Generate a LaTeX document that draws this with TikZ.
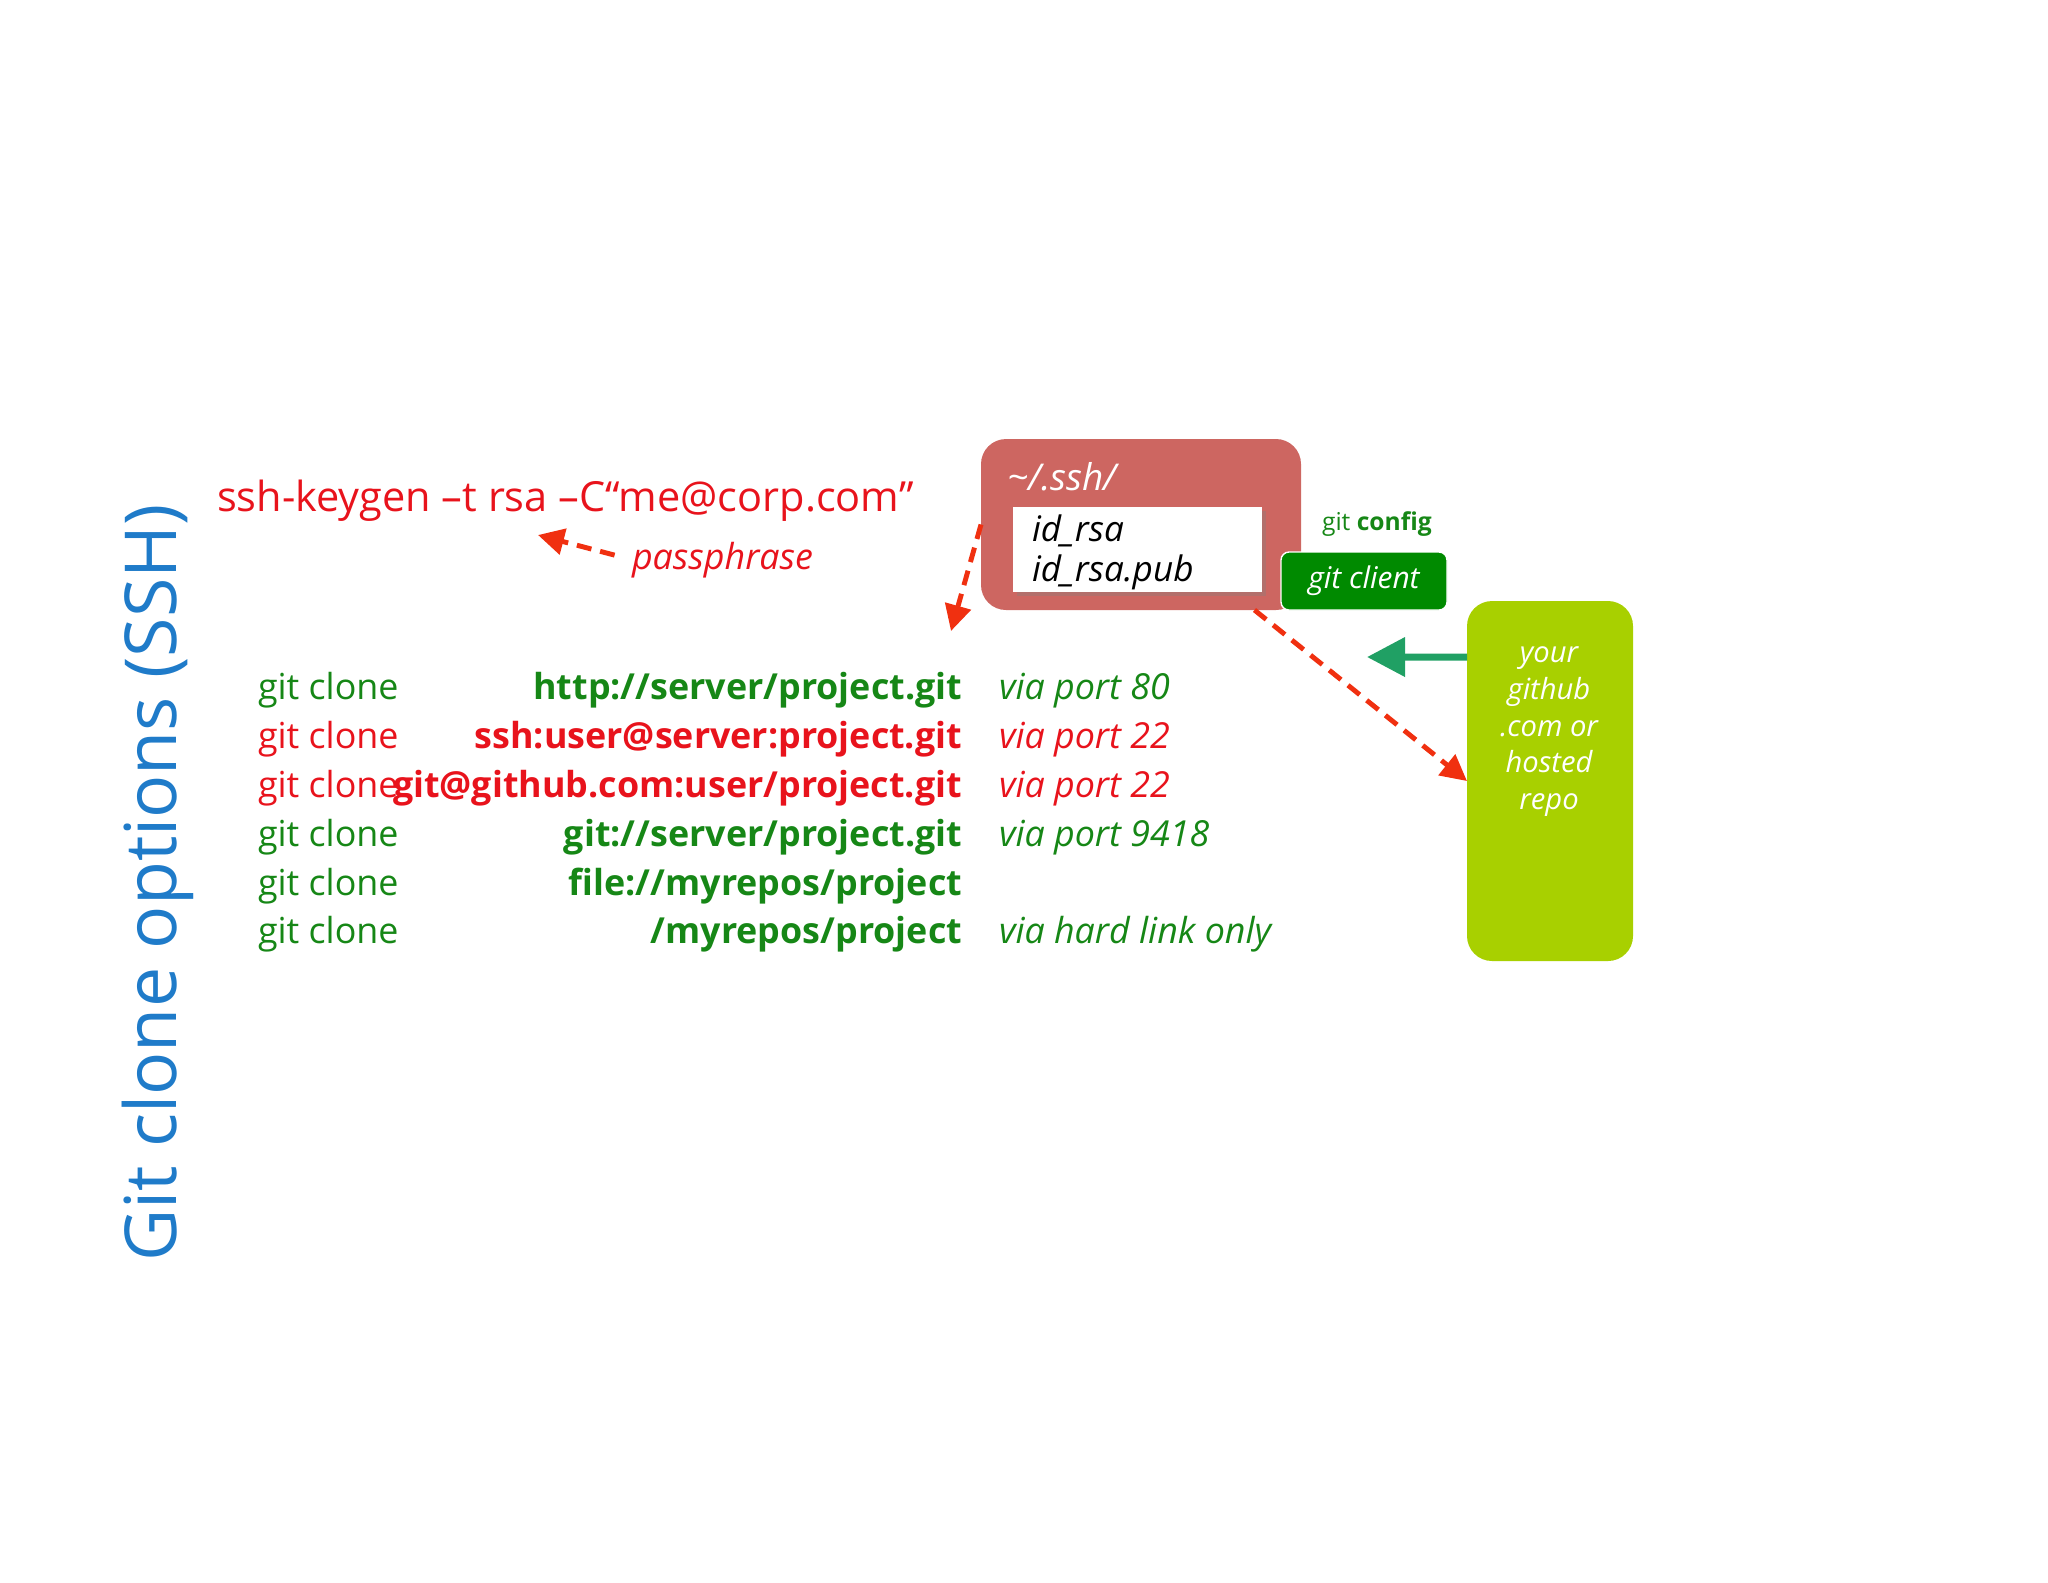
\documentclass[tikz,border=0pt]{standalone}
\usepackage{fontspec}
\setmainfont{Open Sans}
\usetikzlibrary{arrows.meta,shadows}
\definecolor{titleblue}{RGB}{31,123,201}
\definecolor{txtred}{RGB}{232,19,28}
\definecolor{txtgreen}{RGB}{22,135,22}
\definecolor{boxred}{RGB}{205,102,97}
\definecolor{clientgreen}{RGB}{0,138,0}
\definecolor{repolime}{RGB}{168,208,0}
\definecolor{pullgreen}{RGB}{32,160,100}
\definecolor{arrowred}{RGB}{240,48,16}
\begin{document}
\begin{tikzpicture}[x=0.1mm,y=-0.1mm,
  every node/.style={inner sep=0pt,outer sep=0pt},
  rowtext/.style={font=\fontsize{10.2}{12}\selectfont},
  urltext/.style={font=\fontsize{10.2}{12}\selectfont\bfseries,anchor=base east},
  viatext/.style={font=\fontsize{10.2}{12}\selectfont\itshape,anchor=base west},
  dasharrow/.style={draw=arrowred,line width=1.4pt,dash pattern=on 1.5mm off 0.9mm,
    -{Triangle[length=2.6mm,width=2.6mm]}}]
\useasboundingbox (0,0) rectangle (2048,1582);
\node[rotate=90,text=titleblue,font=\fontsize{20.4}{24}\selectfont] (title) at (158,883) {Git clone options (SSH)};
\node[anchor=base west,text=txtred,font=\fontsize{11.8}{14}\selectfont] (keygen) at (217,511) {ssh-keygen –t rsa –C“me@corp.com”};
\node[anchor=base west,text=txtred,font=\fontsize{10.2}{12}\selectfont\itshape] (pass) at (632,569) {passphrase};
\coordinate (keyhint) at (538,535);
\draw[dasharrow,shorten <=1.8mm] (pass.west) -- (keyhint);
% ssh folder
\node[fill=boxred,rounded corners=2.5mm,minimum width=32mm,minimum height=17.1mm] (sshdir) at (1141,524.5) {};
\node[anchor=base west,text=white,font=\fontsize{10.5}{12}\selectfont\itshape] (sshname) at (1007,490) {\textasciitilde/.ssh/};
\node[fill=white,minimum width=24.9mm,minimum height=8.5mm,drop shadow={opacity=0.35,shadow xshift=0.4mm,shadow yshift=-0.4mm}] (keys) at (1137.5,549.5) {};
\node[anchor=base west,font=\fontsize{10}{12}\selectfont\itshape] (idrsa) at (1032,541) {id\_rsa};
\node[anchor=base west,font=\fontsize{10}{12}\selectfont\itshape] (idpub) at (1032,581) {id\_rsa.pub};
\node[anchor=base west,text=txtgreen,font=\fontsize{7}{8}\selectfont] (config) at (1322,530) {git \textbf{config}};
\node[fill=clientgreen,draw=white,line width=0.4pt,rounded corners=0.8mm,minimum width=16.6mm,minimum height=5.8mm,
  text=white,font=\fontsize{8.5}{10}\selectfont\itshape] (client) at (1364,581) {git client};
% hosted repo
\node[fill=repolime,rounded corners=2.5mm,minimum width=16.6mm,minimum height=36mm] (repo) at (1550,781) {};
\node[anchor=north,align=center,text=white,font=\fontsize{8.3}{10.4}\selectfont\itshape] (repotext) at (1549,647)
  {your\\github\\.com or\\hosted\\repo};
\coordinate (sshhint) at (951,631);
\coordinate (pullend) at (1367,657);
\draw[dasharrow] (sshdir.west) -- (sshhint);
\draw[dasharrow] (sshdir.-37) -- (repo.west);
\draw[pullgreen,line width=2pt,-{Triangle[length=3.8mm,width=3.8mm]}] ([yshift=-5.6mm]repo.north west) -- (pullend);
% clone rows
\node[rowtext,anchor=base west,text=txtgreen] (g1) at (258,699) {git clone};
\node[urltext,text=txtgreen] (u1) at (962,699) {http://server/project.git};
\node[viatext,text=txtgreen] (v1) at (999,699) {via port 80};
\node[rowtext,anchor=base west,text=txtred] (g2) at (258,748) {git clone};
\node[urltext,text=txtred] (u2) at (962,748) {ssh:user@server:project.git};
\node[viatext,text=txtred] (v2) at (999,748) {via port 22};
\node[rowtext,anchor=base west,text=txtred] (g3) at (258,797) {git clone};
\node[urltext,text=txtred] (u3) at (962,797) {git@github.com:user/project.git};
\node[viatext,text=txtred] (v3) at (999,797) {via port 22};
\node[rowtext,anchor=base west,text=txtgreen] (g4) at (258,846) {git clone};
\node[urltext,text=txtgreen] (u4) at (962,846) {git://server/project.git};
\node[viatext,text=txtgreen] (v4) at (999,846) {via port 9418};
\node[rowtext,anchor=base west,text=txtgreen] (g5) at (258,895) {git clone};
\node[urltext,text=txtgreen] (u5) at (962,895) {file://myrepos/project};
\node[rowtext,anchor=base west,text=txtgreen] (g6) at (258,943) {git clone};
\node[urltext,text=txtgreen] (u6) at (962,943) {/myrepos/project};
\node[viatext,text=txtgreen] (v6) at (999,943) {via hard link only};
\end{tikzpicture}
\end{document}
